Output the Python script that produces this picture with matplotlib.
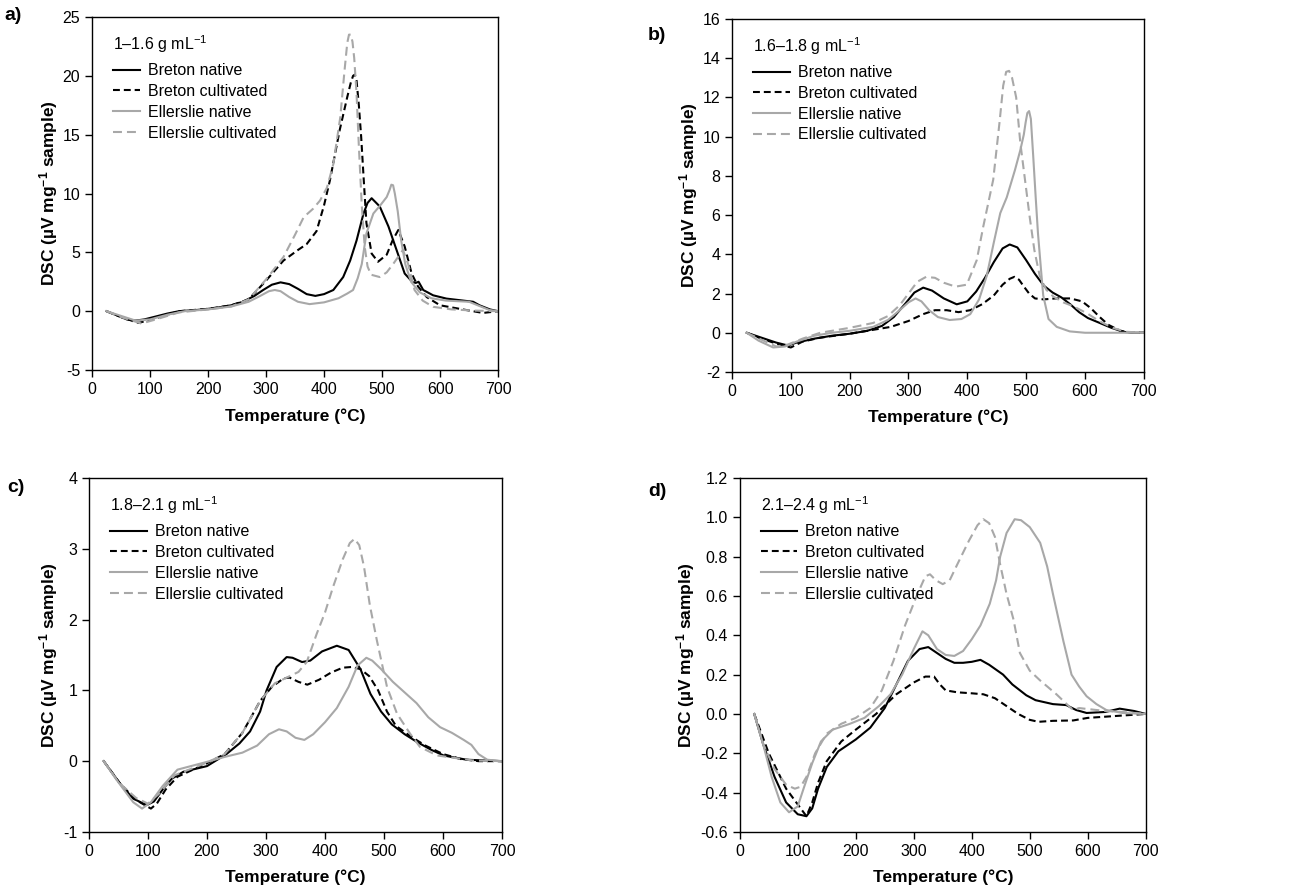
import numpy as np
import matplotlib
matplotlib.use("Agg")
import matplotlib.pyplot as plt

plt.rcParams['font.family'] = ['Liberation Sans', 'DejaVu Sans']
plt.rcParams['mathtext.fontset'] = 'custom'
plt.rcParams['mathtext.rm'] = 'Liberation Sans'
plt.rcParams['mathtext.default'] = 'regular'
plt.rcParams['axes.unicode_minus'] = False

# ---- panel a) 1-1.6 g/mL ----
a_bn_t = [25, 40, 60, 75, 90, 110, 130, 150, 180, 210, 240, 260, 280, 295, 310, 325, 340, 355, 370, 385, 400, 416, 433, 445, 456, 468, 475, 482, 496, 511, 525, 539, 552, 558, 563, 571, 588, 611, 640, 657, 668, 686, 700]
a_bn = [0, -0.3, -0.7, -0.8, -0.7, -0.45, -0.2, 0, 0.1, 0.25, 0.5, 0.8, 1.3, 1.8, 2.25, 2.45, 2.3, 1.9, 1.45, 1.3, 1.45, 1.8, 2.9, 4.3, 6.0, 8.3, 9.2, 9.6, 8.9, 7.2, 5.2, 3.2, 2.5, 2.4, 2.5, 1.8, 1.35, 1.07, 0.9, 0.8, 0.5, 0.15, 0]
a_bc_t = [25, 50, 80, 110, 150, 200, 240, 270, 300, 330, 355, 370, 387, 400, 410, 427, 440, 446, 450, 453, 456, 460, 464, 468, 473, 482, 493, 508, 518, 528, 539, 551, 562, 577, 600, 645, 674, 700]
a_bc = [0, -0.5, -1.0, -0.6, 0, 0.2, 0.5, 1.0, 2.6, 4.3, 5.2, 5.7, 6.8, 9.0, 11.1, 15.4, 18.2, 19.4, 20.0, 20.1, 19.6, 17.5, 14.8, 11.5, 7.5, 4.9, 4.2, 4.8, 6.0, 6.9, 5.5, 3.2, 2.1, 1.2, 0.5, 0.1, -0.15, 0]
a_en_t = [25, 50, 75, 100, 130, 160, 200, 240, 270, 290, 305, 315, 325, 340, 355, 375, 400, 425, 440, 450, 458, 465, 473, 485, 497, 508, 513, 516, 519, 522, 527, 533, 540, 550, 565, 585, 610, 650, 665, 685, 700]
a_en = [0, -0.4, -0.8, -0.7, -0.3, 0, 0.15, 0.4, 0.8, 1.3, 1.7, 1.8, 1.7, 1.2, 0.8, 0.6, 0.75, 1.1, 1.5, 1.8, 2.8, 4.0, 6.6, 8.3, 9.0, 9.7, 10.3, 10.75, 10.7, 10.0, 8.5, 6.0, 4.0, 2.5, 1.6, 1.1, 0.9, 0.8, 0.5, 0.1, 0]
a_ec_t = [25, 50, 85, 110, 150, 200, 240, 270, 300, 330, 350, 365, 381, 393, 405, 416, 428, 435, 440, 443, 446, 449, 452, 456, 460, 465, 470, 475, 481, 496, 508, 519, 536, 545, 556, 570, 588, 620, 660, 700]
a_ec = [0, -0.5, -1.05, -0.7, -0.1, 0.15, 0.4, 1.0, 2.7, 4.6, 6.5, 8.0, 8.7, 9.4, 10.5, 12.5, 16.5, 20.3, 22.8, 23.5, 23.5, 22.9, 21.5, 18.5, 14.0, 9.0, 5.5, 3.8, 3.1, 2.9, 3.3, 4.0, 5.2, 4.0, 1.8, 0.9, 0.37, 0.15, 0.05, 0]

# ---- panel b) 1.6-1.8 g/mL ----
b_bn_t = [25, 50, 75, 95, 110, 140, 170, 200, 230, 255, 275, 295, 310, 325, 340, 360, 382, 400, 415, 430, 445, 460, 472, 485, 500, 515, 530, 545, 560, 575, 590, 605, 625, 645, 665, 680, 700]
b_bn = [0, -0.25, -0.5, -0.65, -0.5, -0.3, -0.15, -0.05, 0.1, 0.35, 0.8, 1.5, 2.05, 2.3, 2.15, 1.75, 1.45, 1.6, 2.1, 2.8, 3.6, 4.3, 4.5, 4.35, 3.7, 3.0, 2.4, 2.05, 1.8, 1.45, 1.05, 0.75, 0.5, 0.25, 0.05, 0.0, 0]
b_bc_t = [25, 50, 75, 100, 120, 150, 200, 240, 270, 300, 325, 345, 365, 385, 405, 425, 445, 460, 472, 480, 488, 495, 505, 515, 530, 550, 575, 595, 610, 625, 640, 660, 680, 700]
b_bc = [0, -0.3, -0.55, -0.75, -0.45, -0.25, -0.05, 0.15, 0.3, 0.6, 0.95, 1.15, 1.15, 1.05, 1.15, 1.45, 1.9, 2.45, 2.75, 2.85, 2.7, 2.4, 2.0, 1.75, 1.7, 1.75, 1.75, 1.6, 1.25, 0.8, 0.4, 0.1, 0.0, 0]
b_en_t = [25, 45, 70, 90, 110, 140, 170, 200, 240, 265, 285, 300, 312, 322, 335, 350, 370, 390, 405, 420, 433, 445, 456, 467, 481, 490, 496, 499, 502, 505, 508, 512, 516, 520, 525, 529, 538, 552, 574, 600, 700]
b_en = [0, -0.4, -0.75, -0.7, -0.45, -0.15, 0.0, 0.1, 0.3, 0.65, 1.15, 1.55, 1.75, 1.6, 1.15, 0.8, 0.65, 0.7, 0.95, 1.7, 2.9, 4.6, 6.1, 6.9, 8.3, 9.3, 10.1, 10.7, 11.2, 11.3, 10.9, 9.0, 7.0, 5.1, 3.3, 1.9, 0.7, 0.3, 0.07, 0, 0]
b_ec_t = [25, 50, 75, 95, 120, 150, 200, 240, 265, 285, 300, 315, 330, 345, 360, 380, 399, 416, 427, 444, 455, 461, 466, 471, 476, 483, 490, 498, 506, 514, 523, 534, 546, 563, 580, 603, 625, 648, 670, 700]
b_ec = [0, -0.35, -0.7, -0.6, -0.3, 0, 0.25, 0.5, 0.85, 1.4, 2.0, 2.6, 2.85, 2.8, 2.55, 2.35, 2.45, 3.7, 5.4, 7.8, 10.8, 12.6, 13.3, 13.35, 13.0, 12.0, 9.7, 7.8, 5.9, 4.2, 2.9, 2.2, 1.85, 1.55, 1.35, 1.0, 0.58, 0.24, 0.05, 0]

# ---- panel c) 1.8-2.1 g/mL ----
c_bn_t = [25, 53, 75, 98, 110, 125, 140, 160, 200, 233, 255, 273, 290, 301, 318, 335, 345, 361, 375, 395, 420, 440, 460, 477, 495, 513, 535, 556, 580, 601, 640, 700]
c_bn = [0, -0.32, -0.53, -0.62, -0.57, -0.4, -0.25, -0.15, -0.07, 0.1, 0.25, 0.42, 0.7, 1.0, 1.33, 1.47, 1.46, 1.4, 1.42, 1.55, 1.63, 1.57, 1.3, 0.95, 0.7, 0.52, 0.38, 0.27, 0.16, 0.08, 0.02, 0]
c_bc_t = [25, 53, 80, 105, 115, 130, 150, 200, 230, 260, 290, 310, 330, 340, 355, 370, 390, 410, 430, 445, 460, 475, 490, 505, 520, 545, 570, 600, 630, 660, 700]
c_bc = [0, -0.32, -0.55, -0.67, -0.6, -0.4, -0.22, -0.03, 0.1, 0.4, 0.85, 1.05, 1.17, 1.18, 1.12, 1.08, 1.15, 1.25, 1.32, 1.33, 1.3, 1.2, 1.0, 0.7, 0.5, 0.35, 0.22, 0.1, 0.03, 0, 0]
c_en_t = [25, 50, 75, 90, 105, 125, 150, 200, 230, 260, 285, 305, 322, 335, 350, 365, 380, 400, 420, 440, 455, 470, 480, 495, 515, 535, 555, 575, 595, 615, 635, 648, 660, 675, 700]
c_en = [0, -0.3, -0.58, -0.67, -0.58, -0.35, -0.12, -0.01, 0.06, 0.12, 0.22, 0.38, 0.45, 0.42, 0.33, 0.3, 0.38, 0.55, 0.75, 1.05, 1.35, 1.46, 1.42, 1.3, 1.12, 0.97, 0.82, 0.62, 0.48, 0.4, 0.3, 0.23, 0.1, 0.02, 0]
c_ec_t = [25, 50, 80, 100, 120, 145, 200, 230, 260, 290, 315, 335, 355, 369, 386, 400, 414, 430, 442, 450, 458, 466, 476, 488, 505, 522, 544, 561, 590, 650, 700]
c_ec = [0, -0.3, -0.52, -0.6, -0.45, -0.2, -0.02, 0.1, 0.4, 0.85, 1.1, 1.18, 1.26, 1.4, 1.8, 2.1, 2.47, 2.85, 3.08, 3.14, 3.05, 2.75, 2.2, 1.7, 1.05, 0.67, 0.39, 0.2, 0.08, 0.01, 0]

# ---- panel d) 2.1-2.4 g/mL ----
d_bn_t = [25, 40, 60, 80, 100, 115, 125, 135, 150, 170, 200, 225, 250, 270, 290, 310, 325, 340, 355, 370, 385, 400, 415, 430, 454, 470, 494, 510, 540, 563, 580, 598, 630, 655, 680, 700]
d_bn = [0, -0.15, -0.32, -0.45, -0.51, -0.52, -0.48, -0.38, -0.27, -0.19, -0.13, -0.07, 0.03, 0.15, 0.27, 0.33, 0.34, 0.31, 0.28, 0.26, 0.26, 0.265, 0.275, 0.25, 0.2, 0.15, 0.095, 0.07, 0.05, 0.045, 0.02, 0.005, 0.01, 0.027, 0.015, 0]
d_bc_t = [25, 50, 80, 100, 115, 125, 135, 150, 175, 200, 235, 270, 300, 320, 335, 345, 355, 375, 400, 420, 440, 460, 480, 500, 515, 540, 575, 600, 650, 700]
d_bc = [0, -0.2, -0.38, -0.46, -0.52, -0.45, -0.35, -0.24, -0.14, -0.08, 0.0, 0.1, 0.16, 0.19, 0.19, 0.15, 0.12, 0.11, 0.105, 0.1, 0.08, 0.04, 0.0, -0.03, -0.04, -0.035, -0.033, -0.02, -0.01, 0]
d_en_t = [25, 40, 55, 70, 85, 100, 110, 125, 140, 160, 190, 215, 240, 260, 280, 300, 315, 325, 340, 355, 370, 385, 400, 415, 431, 442, 449, 460, 474, 485, 500, 518, 530, 540, 558, 572, 585, 598, 615, 632, 660, 700]
d_en = [0, -0.15, -0.32, -0.45, -0.5, -0.47, -0.38, -0.25, -0.14, -0.08, -0.05, -0.02, 0.04, 0.1, 0.2, 0.33, 0.42, 0.4, 0.33, 0.3, 0.295, 0.32, 0.38, 0.45, 0.56, 0.68, 0.8, 0.92, 0.99, 0.985, 0.95, 0.87, 0.75, 0.61, 0.37, 0.2, 0.14, 0.09, 0.05, 0.02, 0.005, 0]
d_ec_t = [25, 40, 60, 80, 95, 105, 115, 130, 150, 175, 200, 225, 245, 265, 285, 305, 320, 328, 338, 350, 362, 375, 395, 410, 420, 430, 440, 449, 460, 472, 483, 500, 518, 546, 569, 575, 585, 600, 630, 660, 700]
d_ec = [0, -0.15, -0.28, -0.36, -0.38, -0.37, -0.32, -0.2, -0.1, -0.05, -0.02, 0.03, 0.12, 0.27, 0.45, 0.6, 0.7, 0.71, 0.68, 0.66, 0.68, 0.76, 0.88, 0.96, 0.99, 0.97, 0.9, 0.76, 0.61, 0.48, 0.31, 0.22, 0.17, 0.1, 0.035, 0.02, 0.03, 0.025, 0.015, 0.01, 0]

series_names = ['Breton native', 'Breton cultivated', 'Ellerslie native', 'Ellerslie cultivated']
GRAY = '#a8a8a8'
styles = [dict(color='black', ls='-'),
          dict(color='black', ls=(0, (3.3, 1.9))),
          dict(color=GRAY, ls='-'),
          dict(color=GRAY, ls=(0, (4.3, 2.4)))]

panels = [
    dict(tag='a)', dens='1\u20131.6 g mL$^{-1}$', ylim=(-5, 25), yticks=np.arange(-5, 26, 5), fmt='%d',
         rect=[0.0713, 0.5861, 0.3145, 0.3949], tagxy=(13, 15), hl=1.7,
         data=[(a_bn_t, a_bn), (a_bc_t, a_bc), (a_en_t, a_en), (a_ec_t, a_ec)]),
    dict(tag='b)', dens='1.6\u20131.8 g mL$^{-1}$', ylim=(-2, 16), yticks=np.arange(-2, 17, 2), fmt='%d',
         rect=[0.567, 0.5839, 0.319, 0.395], tagxy=(657, 36), hl=2.3,
         data=[(b_bn_t, b_bn), (b_bc_t, b_bc), (b_en_t, b_en), (b_ec_t, b_ec)]),
    dict(tag='c)', dens='1.8\u20132.1 g mL$^{-1}$', ylim=(-1, 4), yticks=np.arange(-1, 5, 1), fmt='%d',
         rect=[0.0689, 0.0694, 0.32, 0.396], tagxy=(16, 487), hl=2.3,
         data=[(c_bn_t, c_bn), (c_bc_t, c_bc), (c_en_t, c_en), (c_ec_t, c_ec)]),
    dict(tag='d)', dens='2.1\u20132.4 g mL$^{-1}$', ylim=(-0.6, 1.2), yticks=np.arange(-0.6, 1.21, 0.2), fmt='%.1f',
         rect=[0.573, 0.0694, 0.3145, 0.396], tagxy=(657, 492), hl=2.3,
         data=[(d_bn_t, d_bn), (d_bc_t, d_bc), (d_en_t, d_en), (d_ec_t, d_ec)]),
]

W, H = 1291, 894
fig = plt.figure(figsize=(W / 100, H / 100), dpi=100)

for p in panels:
    ax = fig.add_axes(p['rect'])
    for (t, y), name, st in zip(p['data'], series_names, styles):
        ax.plot(t, y, lw=1.5, label=name, **st)
    ax.set_xlim(0, 700)
    ax.set_ylim(*p['ylim'])
    ax.set_xticks(np.arange(0, 701, 100))
    ax.set_yticks(p['yticks'])
    ax.set_yticklabels([p['fmt'] % (0 if abs(v) < 1e-9 else v) for v in p['yticks']])
    ax.tick_params(direction='out', length=5, width=1, labelsize=11.5, top=False, right=False)
    for s in ax.spines.values():
        s.set_linewidth(1)
    ax.set_xlabel('Temperature (\u00b0C)', fontsize=12.5, fontweight='bold', labelpad=8)
    ax.set_ylabel('DSC (\u00b5V mg$^{-1}$ sample)', fontsize=12.5, fontweight='bold', labelpad=2)
    leg = ax.legend(loc='upper left', frameon=False, fontsize=11.5, title=p['dens'],
                    title_fontsize=11.5, alignment='left', handlelength=p['hl'],
                    handletextpad=0.5, labelspacing=0.36, borderaxespad=0.4,
                    bbox_to_anchor=(0.02, 0.99))
    leg._legend_box.sep = 6
    fig.text(p['tagxy'][0] / W, 1 - p['tagxy'][1] / H, p['tag'], fontsize=14,
             fontweight='bold', ha='center', va='center')

fig.savefig('out.png', dpi=100)
